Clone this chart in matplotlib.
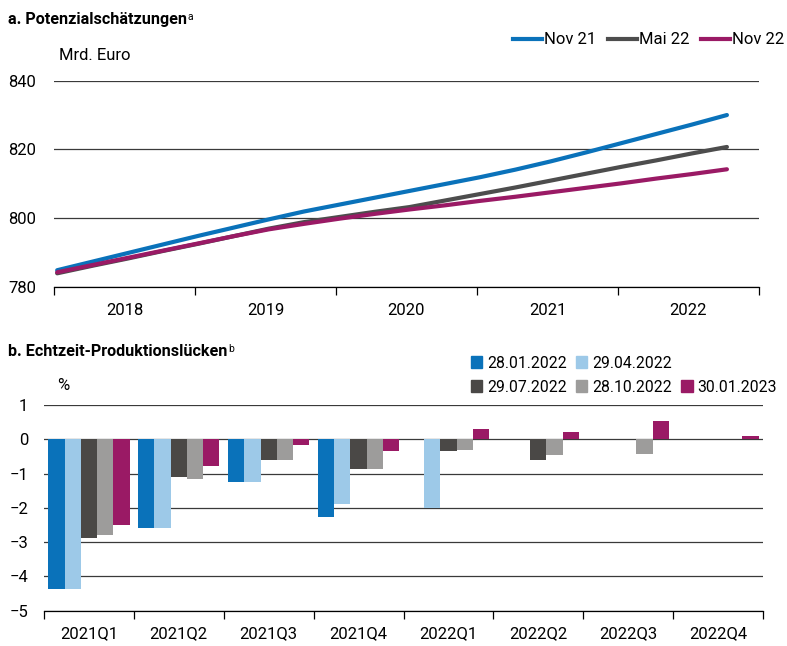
import numpy as np
import matplotlib.pyplot as plt
from matplotlib.patches import Patch
from matplotlib.lines import Line2D

plt.rcParams['font.family'] = ['Roboto', 'DejaVu Sans']

# a. Potenzialschaetzungen, quarterly 2018Q1 .. 2022Q4 (Mrd. Euro)
years = ['2018', '2019', '2020', '2021', '2022']
nov21 = [784.8, 787.3, 789.8, 792.3, 794.8, 797.2, 799.6, 801.9, 803.9, 805.9,
         807.9, 809.9, 811.9, 814.1, 816.5, 819.1, 821.8, 824.5, 827.2, 830.0]
mai22 = [783.9, 786.1, 788.2, 790.4, 792.5, 794.7, 796.9, 798.8, 800.3, 801.8,
         803.2, 805.1, 807.0, 808.9, 810.9, 812.9, 814.9, 816.8, 818.8, 820.7]
nov22 = [784.2, 786.3, 788.4, 790.5, 792.6, 794.7, 796.7, 798.3, 799.8, 801.2,
         802.5, 803.7, 805.0, 806.2, 807.5, 808.8, 810.1, 811.5, 812.8, 814.2]
line_labels = ['Nov 21', 'Mai 22', 'Nov 22']
line_colors = ['#0a72ba', '#4d4d4d', '#9a1a65']

# b. Echtzeit-Produktionsluecken (%)
periods = ['2021Q1', '2021Q2', '2021Q3', '2021Q4',
           '2022Q1', '2022Q2', '2022Q3', '2022Q4']
gap_280122 = [-4.38, -2.59, -1.26, -2.28, np.nan, np.nan, np.nan, np.nan]
gap_290422 = [-4.38, -2.59, -1.24, -1.89, -2.00, np.nan, np.nan, np.nan]
gap_290722 = [-2.88, -1.10, -0.60, -0.88, -0.34, -0.61, np.nan, np.nan]
gap_281022 = [-2.80, -1.16, -0.60, -0.86, -0.30, -0.45, -0.42, np.nan]
gap_300123 = [-2.51, -0.78, -0.16, -0.34, 0.29, 0.22, 0.52, 0.10]
bar_labels = ['28.01.2022', '29.04.2022', '29.07.2022', '28.10.2022', '30.01.2023']
bar_colors = ['#0a72ba', '#9dc9e8', '#4a4846', '#9d9c9b', '#9a1a65']

W, H = 787, 646
fig = plt.figure(figsize=(W / 100, H / 100), dpi=100)
grid_c = '#3a3a3a'

# ---------- panel a ----------
ax1 = fig.add_axes([54 / W, 1 - 286.7 / H, 705 / W, 206 / H])
q = np.arange(len(nov21))
for vals, lab, c in zip([nov21, mai22, nov22], line_labels, line_colors):
    ax1.plot(q, vals, color=c, lw=3, solid_capstyle='round', label=lab, zorder=3)

edges = np.arange(len(years) + 1) * 4 - 0.09
ax1.set_xlim(edges[0], edges[-1])
ax1.set_ylim(780, 840)
ax1.set_yticks([780, 800, 820, 840])
ax1.yaxis.grid(True, color=grid_c, lw=0.9)
ax1.set_axisbelow(True)
ax1.set_xticks(edges)
ax1.set_xticklabels([])
ax1.set_xticks(edges[:-1] + 2, minor=True)
ax1.set_xticklabels(years, minor=True)
ax1.tick_params(axis='x', which='major', length=6, width=0.9, direction='out')
ax1.tick_params(axis='x', which='minor', length=0, pad=12, labelsize=12)
ax1.tick_params(axis='y', length=0, pad=13, labelsize=12)
for s in ['left', 'right', 'top']:
    ax1.spines[s].set_visible(False)
ax1.spines['bottom'].set_linewidth(0.9)

handles = [Line2D([], [], color=c, lw=3) for c in line_colors]
fig.legend(handles, line_labels, loc='center right',
           bbox_to_anchor=(784 / W, 1 - 40 / H), bbox_transform=fig.transFigure,
           ncol=3, frameon=False, fontsize=12, handlelength=1.75,
           handletextpad=0.1, columnspacing=0.7, borderpad=0, borderaxespad=0)

# ---------- panel b ----------
ax2 = fig.add_axes([44 / W, 1 - 610.7 / H, 719 / W, 205.7 / H])
x = np.arange(len(periods))
bw = 0.181
series = [gap_280122, gap_290422, gap_290722, gap_281022, gap_300123]
for i, (vals, c) in enumerate(zip(series, bar_colors)):
    ax2.bar(x + (i - 2) * bw, vals, width=bw, color=c, zorder=3)

ax2.set_xlim(-0.5, len(periods) - 0.5)
ax2.set_ylim(-5, 1)
ax2.set_yticks(np.arange(-5, 2))
ax2.yaxis.grid(True, color=grid_c, lw=0.9)
ax2.set_axisbelow(True)
ax2.set_xticks(np.arange(len(periods) + 1) - 0.5)
ax2.set_xticklabels([])
ax2.set_xticks(x, minor=True)
ax2.set_xticklabels(periods, minor=True)
ax2.tick_params(axis='x', which='major', length=6, width=0.9, direction='out')
ax2.tick_params(axis='x', which='minor', length=0, pad=11, labelsize=12)
ax2.tick_params(axis='y', length=0, pad=11.5, labelsize=12)
for s in ['left', 'right', 'top']:
    ax2.spines[s].set_visible(False)
ax2.spines['bottom'].set_linewidth(0.9)

patches = [Patch(color=c) for c in bar_colors]
leg_kw = dict(loc='center left', bbox_transform=fig.transFigure, frameon=False,
              fontsize=11.3, handlelength=0.72, handleheight=0.72,
              handletextpad=0.3, columnspacing=0.6, borderpad=0, borderaxespad=0)
fig.legend(patches[:2], bar_labels[:2], ncol=2,
           bbox_to_anchor=(471 / W, 1 - 363 / H), **leg_kw)
fig.legend(patches[2:], bar_labels[2:], ncol=3,
           bbox_to_anchor=(471 / W, 1 - 387 / H), **leg_kw)

# ---------- titles and units ----------
r = fig.canvas.get_renderer()
for txt, sup, base, supbase in [('a. Potenzialschätzungen', 'a', 24, 20.5),
                                ('b. Echtzeit-Produktionslücken', 'b', 356.5, 352)]:
    t = fig.text(8 / W, 1 - base / H, txt, fontsize=11.6, fontweight='bold', va='baseline')
    bb = t.get_window_extent(renderer=r)
    fig.text(bb.x1 / W + 0.5 / W, 1 - supbase / H, sup, fontsize=7.5, va='baseline')

fig.text(59 / W, 1 - 56 / H, 'Mrd. Euro', fontsize=12, va='center')
fig.text(57 / W, 1 - 386 / H, '%', fontsize=12, va='center')

fig.savefig('out.png', dpi=100)
